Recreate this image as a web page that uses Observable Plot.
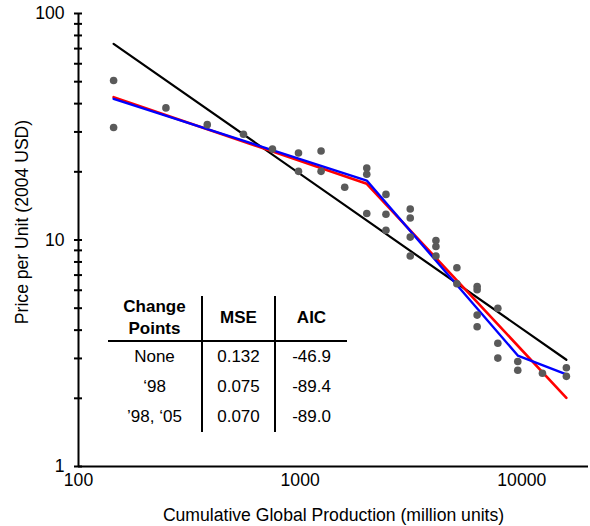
<!DOCTYPE html>
<html>
<head>
<meta charset="utf-8">
<script src="https://cdn.jsdelivr.net/npm/d3@7"></script>
<script src="https://cdn.jsdelivr.net/npm/@observablehq/plot@0.6"></script>
<style>
  html, body { margin: 0; padding: 0; background: #fff; }
  #wrap { position: relative; width: 590px; height: 526px; font-family: "Liberation Sans", Arial, sans-serif; }
  #tbl { position: absolute; left: 108px; top: 296px; border-collapse: collapse; table-layout: fixed;
         font: 17px "Liberation Sans", Arial, sans-serif; color: #000; }
  #tbl th, #tbl td { padding: 0; text-align: center; }
  #tbl th { font-weight: bold; line-height: 22px; height: 44px; border-bottom: 2px solid #000; }
  #tbl td { height: 30px; line-height: 30px; }
  #tbl .c1 { border-right: 2px solid #000; }
  #tbl .c2 { border-right: 2px solid #000; }
</style>
</head>
<body>
<div id="wrap"></div>
<script>
// Observed data points (cumulative production, price)
const prodX = [144, 144, 248, 381, 555, 750, 983, 983, 1243, 1243, 1589, 1998, 1998, 1998,
  2439, 2439, 2439, 3139, 3139, 3139, 3139, 4099, 4099, 4099, 5096, 5096,
  6289, 6289, 6289, 6289, 7798, 7798, 7798, 9592, 9592, 12393, 15893, 15893];
const priceY = [50.6, 31.4, 38.3, 32.3, 29.3, 25.2, 24.2, 20.1, 24.7, 20.1, 17.1, 20.8, 19.5, 13.1,
  15.9, 13.0, 11.05, 13.7, 12.5, 10.3, 8.5, 9.95, 9.36, 8.5, 7.54, 6.41,
  6.23, 6.03, 4.66, 4.14, 5.0, 3.5, 3.01, 2.91, 2.66, 2.58, 2.73, 2.50];

// Fitted lines
const fitNoneX = [144, 15893];
const fitNoneY = [73.5, 2.96];
const fit98X = [144, 1998, 15893];
const fit98Y = [42.7, 17.7, 2.01];
const fit9805X = [144, 1998, 9592, 15893];
const fit9805Y = [42.0, 18.3, 3.09, 2.55];

// Ticks
const yTicksAll = [1, 2, 3, 4, 5, 6, 7, 8, 9, 10, 20, 30, 40, 50, 60, 70, 80, 90, 100];
const yTickLabels = [1, 10, 100];
const xTickLabels = [100, 1000, 10000];

// Table
const tableHeader = ["Change\nPoints", "MSE", "AIC"];
const tableChange = ["None", "\u201898", "\u201998, \u201805"];
const tableMSE = ["0.132", "0.075", "0.070"];
const tableAIC = ["-46.9", "-89.4", "-89.0"];

const xTitle = "Cumulative Global Production (million units)";
const yTitle = "Price per Unit (2004 USD)";

const points = prodX.map((x, i) => ({x, y: priceY[i]}));
const mk = (xs, ys) => xs.map((x, i) => ({x, y: ys[i]}));

const chart = Plot.plot({
  width: 590,
  height: 526,
  marginLeft: 78,
  marginRight: 2,
  marginTop: 13,
  marginBottom: 60,
  x: {type: "log", domain: [100, 20000]},
  y: {type: "log", domain: [1, 100]},
  style: {fontFamily: "Liberation Sans, Arial, sans-serif", fontSize: "17.6px", background: "white", color: "#000"},
  marks: [
    Plot.ruleX([100], {stroke: "#000", strokeWidth: 2}),
    Plot.ruleY([1], {stroke: "#000", strokeWidth: 2}),
    Plot.axisY({ticks: yTicksAll, tickSize: 8, dx: 4, tickFormat: () => "", label: null, strokeWidth: 2, stroke: "#000"}),
    Plot.axisY({ticks: yTickLabels, tickSize: 0, tickPadding: 14, tickFormat: d => String(d), label: null, fill: "#000"}),
    Plot.axisX({ticks: xTickLabels, tickSize: 0, tickPadding: 7, tickFormat: d => String(d), label: null, fill: "#000"}),
    Plot.line(mk(fitNoneX, fitNoneY), {x: "x", y: "y", stroke: "#000", strokeWidth: 2.2}),
    Plot.line(mk(fit98X, fit98Y), {x: "x", y: "y", stroke: "#ff0000", strokeWidth: 2.6}),
    Plot.line(mk(fit9805X, fit9805Y), {x: "x", y: "y", stroke: "#0000ff", strokeWidth: 2.4}),
    Plot.dot(points, {x: "x", y: "y", r: 3.8, fill: "#5a5a5a"}),
    Plot.text([yTitle], {text: d => d, frameAnchor: "left", textAnchor: "middle", lineAnchor: "middle", rotate: -90, dx: -56, dy: -18, fill: "#000"}),
    Plot.text([xTitle], {text: d => d, frameAnchor: "bottom", textAnchor: "middle", lineAnchor: "middle", dy: 49, fill: "#000"})
  ]
});

const wrap = document.getElementById("wrap");
wrap.appendChild(chart);

// Table overlay
const table = document.createElement("table");
table.id = "tbl";
const colgroup = document.createElement("colgroup");
[94, 73, 72].forEach(w => { const c = document.createElement("col"); c.style.width = w + "px"; colgroup.appendChild(c); });
table.appendChild(colgroup);
const thead = document.createElement("tr");
tableHeader.forEach((h, i) => {
  const th = document.createElement("th");
  th.className = "c" + (i + 1);
  h.split("\n").forEach((line, j) => {
    if (j > 0) th.appendChild(document.createElement("br"));
    th.appendChild(document.createTextNode(line));
  });
  thead.appendChild(th);
});
table.appendChild(thead);
tableChange.forEach((c, i) => {
  const tr = document.createElement("tr");
  [c, tableMSE[i], tableAIC[i]].forEach((v, j) => {
    const td = document.createElement("td");
    td.className = "c" + (j + 1);
    td.textContent = v;
    tr.appendChild(td);
  });
  table.appendChild(tr);
});
wrap.appendChild(table);
</script>
</body>
</html>
